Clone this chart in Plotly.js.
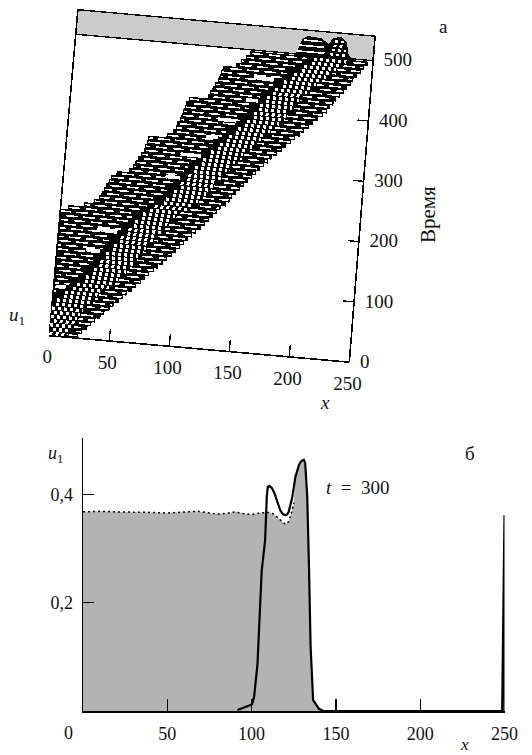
<!DOCTYPE html>
<html>
<head>
<meta charset="utf-8">
<script src="https://cdn.plot.ly/plotly-3.0.1.min.js"></script>
<style>
  html, body { margin: 0; padding: 0; background: #fff; }
  #graph-container { width: 532px; height: 755px; }
  .x2y2 .js-line { shape-rendering: crispEdges; }
</style>
</head>
<body>
<div id="graph-container"></div>
<script>
// panel a: waterfall rows (time, trailing edge, ridge centre, leading edge)
const rowTime = [4, 11, 18, 25, 32, 39, 46, 53, 60, 67, 74, 81, 88, 95, 102, 109, 116, 123, 130, 137, 144, 151, 158, 165, 172, 179, 186, 193, 200, 207, 214, 221, 228, 235, 242, 249, 256, 263, 270, 277, 284, 291, 298, 305, 312, 319, 326, 333, 340, 347, 354, 361, 368, 375, 382, 389, 396, 403, 410, 417, 424, 431, 438, 445, 452, 459, 466, 473, 480, 487, 494];
const rowBack = [0, 0, 0, 0, 0, 0, 0, 0, 0, 0, 0, 0, 0, 0, 0, 0, 0, 0, 0, 0, 0, 0, 0, 0, 0, 0, 0, 0, 0, 0, 6, 19, 27, 31, 33, 35, 36, 38, 40, 44, 54, 57, 59, 61, 63, 65, 66, 67, 68, 83, 88, 90, 91, 93, 94, 95, 96, 97, 99, 115, 116, 118, 120, 122, 123, 124, 125, 136, 140, 144, 147];
const rowRidge = [2, 4, 6, 7, 9, 11, 13, 15, 18, 21, 24, 28, 33, 37, 40, 43, 46, 48, 51, 53, 55, 58, 61, 63, 66, 69, 72, 74, 77, 80, 83, 86, 92, 97, 101, 104, 107, 110, 112, 115, 118, 120, 123, 126, 129, 132, 135, 138, 142, 145, 149, 152, 156, 159, 163, 166, 168, 170, 173, 175, 178, 180, 184, 188, 191, 195, 199, 203, 207, 211, 215];
const rowFront = [24, 27, 31, 34, 37, 41, 44, 48, 51, 55, 58, 61, 65, 68, 72, 75, 78, 82, 85, 89, 92, 96, 99, 102, 105, 108, 111, 114, 118, 121, 124, 127, 130, 133, 137, 140, 142, 145, 148, 151, 154, 157, 160, 163, 166, 169, 172, 176, 180, 183, 187, 190, 194, 197, 201, 204, 208, 212, 215, 217, 220, 222, 225, 228, 230, 233, 235, 238, 241, 243, 246];

// white patches in the black part of the surface
const holeTime = [455, 381, 417, 318, 351, 279, 182, 147, 82];
const holeX = [152, 125, 147, 96, 116, 85, 32, 24, 2];
const holeLength = [17, 15, 10, 17, 10, 12, 17, 12, 8];

// last profile, standing against the grey wall
const crestX = [184, 187, 190, 194, 205, 212, 216, 222, 226, 228.5, 232];
const crestU = [0, 0.08, 0.33, 0.4, 0.38, 0.27, 0.41, 0.44, 0.35, 0.11, 0];

const axisTimeTicks = [100, 200, 300, 400];
const timeLabels = [0, 100, 200, 300, 400, 500];
const axisXTicks = [50, 100, 150, 200];
const xLabels = [0, 50, 100, 150, 200, 250];

// panel b: curves at t = 300
const solidX = [91.6, 100.2, 101.5, 103.5, 106, 108, 109, 109.6, 110.5, 112, 113.5, 115, 117, 118.5, 120, 121, 122, 124, 126, 128, 129, 130, 131, 131.8, 132.5, 133, 134, 135, 136.5, 138.5, 140, 142.5, 248.6, 250, 250];
const solidU = [0.002, 0.012, 0.026, 0.087, 0.26, 0.315, 0.395, 0.414, 0.416, 0.412, 0.403, 0.39, 0.371, 0.364, 0.362, 0.363, 0.368, 0.393, 0.433, 0.454, 0.46, 0.463, 0.464, 0.458, 0.43, 0.396, 0.272, 0.118, 0.02, 0.01, 0.004, 0, 0, 0.362, 0];
const dottedX = [0, 10, 20, 30, 40, 50, 60, 68, 75, 80, 85, 90, 95, 100, 105, 110, 113, 116, 120, 122, 124, 125];
const dottedU = [0.368, 0.369, 0.368, 0.368, 0.367, 0.366, 0.367, 0.369, 0.366, 0.364, 0.365, 0.368, 0.365, 0.363, 0.366, 0.367, 0.364, 0.356, 0.345, 0.35, 0.37, 0.385];

// oblique view of (x, time, u) on the hidden page-sized axes of panel a
function project(x, t, u) {
  return [
    49.3 + 1.2 * x + t * (0.0528 - x * 0.0000224) + 4.4 * u,
    335.7 + 0.106 * x - 0.603 * t - 49 * u
  ];
}

// one trace from a list of [x, t, u] polylines, broken with nulls
function pathTrace(polylines, line, extra) {
  const xs = [];
  const ys = [];
  polylines.forEach(poly => {
    poly.forEach(p => {
      const q = project(p[0], p[1], p[2] || 0);
      xs.push(q[0]);
      ys.push(q[1]);
    });
    xs.push(null);
    ys.push(null);
  });
  return Object.assign({
    type: 'scatter', mode: 'lines', x: xs, y: ys, xaxis: 'x2', yaxis: 'y2',
    line: line, hoverinfo: 'skip', showlegend: false
  }, extra || {});
}

function textTrace(points, labels, position) {
  const q = points.map(p => project(p[0], p[1], 0));
  return {
    type: 'scatter', mode: 'text', x: q.map(p => p[0]), y: q.map(p => p[1]),
    xaxis: 'x2', yaxis: 'y2', text: labels.map(String), textposition: position,
    textfont: { family: 'Liberation Serif', size: 19, color: '#111' },
    hoverinfo: 'skip', showlegend: false
  };
}

// white slits of one row, cut to the band; neighbouring rows sit half a period apart
const brickPeriod = 14.2;
const brickLength = 9.8;
function addBricks(list, from, to, t, i) {
  const phase = (i % 2) * brickPeriod / 2 + i * 0.7;
  for (let k = Math.floor((from - phase) / brickPeriod); phase + k * brickPeriod < to; k++) {
    const a = Math.max(from, phase + k * brickPeriod);
    const b = Math.min(to, phase + k * brickPeriod + brickLength);
    if (b - a > 1.5) list.push([[a, t], [b, t]]);
  }
}

const blackRows = [];
const bricks = [];
const checker = [];
rowTime.forEach((t, i) => {
  const shiftSmall = i % 2 ? 2.5 : 0;
  blackRows.push([[rowBack[i], t], [rowFront[i], t]]);
  addBricks(bricks, rowBack[i] + 1, rowRidge[i] - 20, t, i);
  const checkerStart = Math.max(rowBack[i], rowRidge[i] - 14);
  checker.push([[checkerStart + shiftSmall, t], [rowRidge[i] + 13, t]]);
  addBricks(bricks, rowRidge[i] + 14, rowFront[i] - 1, t, i);
});
const holes = holeTime.map((t, i) => [[holeX[i], t], [holeX[i] + holeLength[i], t]]);

const crestLine = crestX.map((x, i) => [x, 497, crestU[i]]);
const crestWhite = [
  [[191, 497, 0.33], [206, 497, 0.33]],
  [[187, 497, 0.22], [208, 497, 0.22]],
  [[186, 497, 0.1], [209, 497, 0.1]]
];
const crestChecker = [
  [[217, 497, 0.36], [225, 497, 0.36]],
  [[216, 497, 0.27], [226, 497, 0.27]],
  [[215, 497, 0.18], [227, 497, 0.18]],
  [[214, 497, 0.09], [228, 497, 0.09]]
];

const frameLine = { color: '#000', width: 1.6 };
const traces = [
  pathTrace([[[0, 500, 0], [250, 500, 0], [250, 500, 0.5], [0, 500, 0.5], [0, 500, 0]]],
    { color: '#000', width: 1.4 }, { fill: 'toself', fillcolor: '#cbcbcb' }),
  pathTrace([
    [[0, 0, 0], [0, 500, 0.5]],
    [[250, 0, 0], [250, 500, 0.5]],
    [[0, 0, 0], [250, 0, 0]]
  ], frameLine),
  pathTrace(axisXTicks.map(x => [[x, 0], [x, 20]]), { color: '#000', width: 1.3 }),
  pathTrace(axisTimeTicks.map(t => [[241, t], [250, t]]), { color: '#000', width: 1.3 }),
  pathTrace(blackRows, { color: '#000', width: 4.6 }),
  pathTrace(bricks, { color: '#fff', width: 1.6 }),
  pathTrace(checker, { color: '#fff', width: 3.2, dash: '3px,3px' }),
  pathTrace(holes, { color: '#fff', width: 3.6 }),
  pathTrace([crestLine], { color: '#000', width: 2 }, { fill: 'toself', fillcolor: '#000' }),
  pathTrace(crestWhite, { color: '#fff', width: 1.6 }),
  pathTrace(crestChecker, { color: '#fff', width: 2.4, dash: '3px,3px' }),
  textTrace(xLabels.map(x => [x, -38]), xLabels, 'middle center'),
  textTrace(timeLabels.map(t => [259, t]), timeLabels, 'middle right')
];

// panel b, grey area follows the dotted curve up to its meeting with the solid one
const meetStart = solidX.findIndex(x => x > 124);
const meetEnd = solidX.findIndex(x => x > 142);
const fillX = dottedX.concat(solidX.slice(meetStart, meetEnd + 1));
const fillU = dottedU.concat(solidU.slice(meetStart, meetEnd + 1));
traces.push(
  {
    type: 'scatter', mode: 'lines', x: fillX, y: fillU, fill: 'tozeroy', fillcolor: '#b3b3b3',
    line: { width: 0 }, hoverinfo: 'skip', showlegend: false
  },
  {
    type: 'scatter', mode: 'lines', x: dottedX, y: dottedU,
    line: { color: '#000', width: 1.5, dash: '2px,3px' }, hoverinfo: 'skip', showlegend: false
  },
  {
    type: 'scatter', mode: 'lines', x: solidX, y: solidU,
    line: { color: '#000', width: 2.2 }, hoverinfo: 'skip', showlegend: false
  }
);

const serif = { family: 'Liberation Serif', size: 19, color: '#111' };
function note(xref, yref, x, y, text, size, extra) {
  return Object.assign({
    xref: xref, yref: yref, x: x, y: y, text: text, showarrow: false,
    xanchor: 'center', yanchor: 'middle',
    font: Object.assign({}, serif, { size: size })
  }, extra || {});
}

const layout = {
  width: 532,
  height: 755,
  margin: { l: 0, r: 0, t: 0, b: 0 },
  paper_bgcolor: '#fff',
  plot_bgcolor: 'rgba(0,0,0,0)',
  showlegend: false,
  xaxis: {
    domain: [83 / 532, 504.5 / 532], range: [0, 250], anchor: 'y',
    tickvals: xLabels.slice(1), ticktext: xLabels.slice(1).map(String),
    ticks: 'inside', ticklen: 12, tickwidth: 1.3, tickcolor: '#000',
    ticklabelstandoff: 6,
    showline: true, linecolor: '#000', linewidth: 1.5, showgrid: false, zeroline: false,
    tickfont: { family: 'Liberation Serif', size: 18, color: '#111' }
  },
  yaxis: {
    domain: [1 - 711 / 755, 1 - 438 / 755], range: [0, 0.5045], anchor: 'x',
    tickvals: [0.2, 0.4], ticktext: ['0,2', '0,4'],
    ticks: 'inside', ticklen: 11, tickwidth: 1.3, tickcolor: '#000',
    ticklabelstandoff: 5,
    showline: true, linecolor: '#000', linewidth: 1.5, showgrid: false, zeroline: false,
    tickfont: { family: 'Liberation Serif', size: 18, color: '#111' }
  },
  xaxis2: { domain: [0, 1], range: [0, 532], anchor: 'y2', visible: false },
  yaxis2: { domain: [1 - 410 / 755, 1], range: [410, 0], anchor: 'x2', visible: false },
  annotations: [
    note('x2', 'y2', 443, 26, 'а', 19),
    note('x2', 'y2', 428, 215, 'Время', 21, { textangle: -90 }),
    note('x2', 'y2', 17, 316, '<i>u</i><sub>1</sub>', 19),
    note('x2', 'y2', 325, 402, '<i>x</i>', 19),
    note('paper', 'paper', 470 / 532, 1 - 453 / 755, 'б', 19),
    note('paper', 'paper', 55 / 532, 1 - 454 / 755, '<i>u</i><sub>1</sub>', 18),
    note('paper', 'paper', 358 / 532, 1 - 487 / 755, '<i>t</i>\u00a0\u00a0=\u00a0\u00a0300', 19),
    note('paper', 'paper', 68 / 532, 1 - 733 / 755, '0', 18),
    note('paper', 'paper', 464 / 532, 1 - 744 / 755, '<i>x</i>', 17)
  ]
};

Plotly.newPlot('graph-container', traces, layout, { displayModeBar: false, staticPlot: true });
</script>
</body>
</html>
